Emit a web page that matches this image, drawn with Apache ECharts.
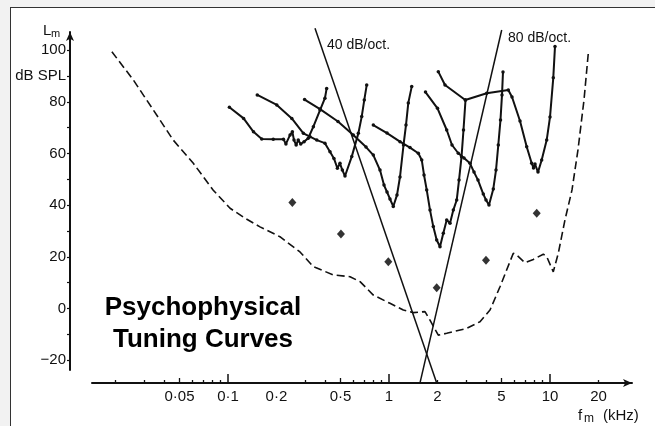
<!DOCTYPE html>
<html>
<head>
<meta charset="utf-8">
<script src="https://cdn.jsdelivr.net/npm/echarts@6/dist/echarts.min.js"></script>
<style>
	body { margin: 0; background: #f2f2f2; overflow: hidden; }
	#frame { position: absolute; left: 10px; top: 7px; width: 644px; height: 419px; background: #fff; border-left: 1px solid #333; border-top: 1px solid #333; }
	#chart { position: absolute; left: 0; top: 0; width: 655px; height: 426px; }
</style>
</head>
<body>
<div id="frame"></div>
<div id="chart"></div>
<script>
// masker frequency in kHz, masker level in dB SPL
var freqTickKhz = [0.05, 0.1, 0.2, 0.5, 1, 2, 5, 10, 20];
var freqTickText = ['0\u00b705', '0\u00b71', '0\u00b72', '0\u00b75', '1', '2', '5', '10', '20'];
var freqMinorKhz = [0.02, 0.03, 0.04, 0.06, 0.07, 0.08, 0.09, 0.3, 0.4, 0.6, 0.7, 0.8, 0.9, 2, 3, 4, 6, 7, 8, 9, 20];
var freqMidKhz = [0.05, 0.5, 5];
var freqDecadeKhz = [0.1, 1, 10];
var levelLabels = [-20, 0, 20, 40, 60, 80, 90, 100];
var levelTicks = [-20, -10, 0, 10, 20, 30, 40, 50, 60, 70, 80, 90, 100];

// probe tones (the dots)
var probeKhz = [0.251, 0.503, 0.990, 1.978, 4.004, 8.27];
var probeDb = [41.0, 28.8, 18.1, 8.0, 18.7, 36.9];

// tuning curves, one per probe
var ptc025Khz = [0.102, 0.125, 0.144, 0.162, 0.191, 0.221, 0.229, 0.243, 0.251, 0.257, 0.265, 0.273, 0.283, 0.297, 0.315, 0.339, 0.373, 0.400, 0.410];
var ptc025Db = [77.9, 73.6, 68.4, 65.6, 65.5, 65.5, 63.7, 67.2, 68.4, 65.2, 63.3, 65.2, 63.7, 64.6, 65.9, 70.4, 76.8, 81.4, 85.2];

var ptc05Khz = [0.152, 0.201, 0.249, 0.294, 0.323, 0.356, 0.400, 0.430, 0.455, 0.478, 0.496, 0.513, 0.533, 0.587, 0.645, 0.677, 0.702, 0.727];
var ptc05Db = [82.7, 78.8, 73.6, 67.8, 66.5, 65.2, 64.0, 60.7, 58.1, 54.3, 56.2, 53.6, 51.3, 58.8, 67.8, 74.3, 80.7, 86.5];

var ptc1Khz = [0.299, 0.373, 0.482, 0.600, 0.720, 0.799, 0.879, 0.931, 0.972, 1.014, 1.063, 1.121, 1.170, 1.231, 1.275, 1.318, 1.384];
var ptc1Db = [80.9, 77.2, 72.4, 67.2, 62.5, 59.4, 53.6, 47.8, 45.1, 42.4, 39.5, 43.9, 50.9, 63.3, 71.0, 79.6, 85.9];

var ptc2Khz = [0.799, 0.972, 1.170, 1.350, 1.521, 1.597, 1.650, 1.715, 1.798, 1.884, 1.978, 2.074, 2.174, 2.283, 2.393, 2.509, 2.634, 2.722, 2.821, 2.902, 2.987];
var ptc2Db = [71.0, 67.9, 64.6, 62.3, 60.1, 57.5, 51.7, 45.9, 38.1, 31.7, 26.5, 23.9, 29.1, 34.3, 33.0, 38.1, 42.0, 49.7, 58.7, 69.1, 80.7];

var ptc4Khz = [1.685, 2.001, 2.283, 2.462, 2.694, 2.923, 3.185, 3.373, 3.571, 3.852, 4.004, 4.179, 4.444, 4.620, 4.774, 4.926, 5.034, 5.106];
var ptc4Db = [83.8, 77.5, 69.1, 63.3, 60.1, 58.3, 56.2, 52.8, 49.7, 44.3, 42.0, 40.1, 46.3, 53.6, 63.3, 73.0, 82.7, 91.6];

var ptc8Khz = [2.024, 2.228, 2.978, 4.045, 5.508, 5.808, 6.512, 7.166, 7.697, 7.898, 8.069, 8.423, 8.880, 9.539, 10.0, 10.48, 10.74];
var ptc8Db = [91.7, 86.5, 80.7, 83.3, 84.6, 81.9, 72.6, 62.6, 56.2, 54.4, 55.9, 52.8, 57.5, 65.2, 74.1, 89.3, 101.4];

// threshold in quiet (dashed)
var quietKhz = [0.0190, 0.0258, 0.0344, 0.0457, 0.0609, 0.0810, 0.103, 0.128, 0.158, 0.210, 0.280, 0.339, 0.451, 0.573, 0.661, 0.799, 1.014, 1.227, 1.416, 1.673, 1.797, 2.024, 2.283, 3.038, 3.674, 4.240, 4.891, 5.916, 6.213, 6.995, 7.876, 9.087, 9.539, 10.48, 11.26, 12.39, 13.70, 14.92, 16.26, 17.29];
var quietDb = [99.4, 88.5, 76.8, 65.2, 56.2, 45.8, 38.8, 34.9, 31.6, 27.8, 21.9, 16.2, 13.0, 12.3, 10.4, 5.2, 2.0, -0.6, -1.6, -1.2, -4.5, -10.3, -9.6, -7.7, -5.1, -0.6, 8.4, 21.4, 20.7, 17.7, 19.0, 21.0, 20.1, 14.2, 21.4, 34.3, 45.9, 61.4, 80.7, 98.8];

// slope guide lines
var slope40Khz = [0.347, 1.978];
var slope40Db = [108.5, -28.8];
var slope80Khz = [1.558, 5.012];
var slope80Db = [-28.8, 107.8];

var INK = '#111';
var FONT = '"Liberation Sans", Arial, sans-serif';

function lg(list)
{
	return list.map(function (v) { return Math.log10(v); });
}

function pairs(khz, db)
{
	return khz.map(function (f, i) { return [Math.log10(f), db[i]]; });
}

function tuningSeries(khz, db)
{
	return {
		type: 'line',
		xAxisIndex: 0,
		yAxisIndex: 0,
		data: pairs(khz, db),
		symbol: 'circle',
		symbolSize: 3.5,
		showAllSymbol: true,
		lineStyle: {color: INK, width: 2},
		itemStyle: {color: INK},
		silent: true
	};
}

function guideSeries(khz, db, dash)
{
	return {
		type: 'line',
		xAxisIndex: 0,
		yAxisIndex: 0,
		data: pairs(khz, db),
		symbol: 'none',
		lineStyle: {color: INK, width: dash ? 1.6 : 1.5, type: dash ? [8, 4] : 'solid'},
		silent: true
	};
}

function tickLabel(v)
{
	for (var i = 0; i < freqTickKhz.length; i++) {
		if (Math.abs(Math.log10(freqTickKhz[i]) - v) < 1e-6) return freqTickText[i];
	}
	return '';
}

var chart = echarts.init(document.getElementById('chart'));

var hidden = {show: false};

option = {
	animation: false,
	grid: [
		// data area, 161 px per decade, 2.583 px per dB
		{left: 70, right: 18, top: 28, bottom: 43, outerBoundsMode: 'none'},
		// level axis
		{left: 70, width: 10, top: 32, bottom: 56, outerBoundsMode: 'none'},
		// frequency axis
		{left: 92, right: 23, top: 382, bottom: 43, outerBoundsMode: 'none'}
	],
	xAxis: [
		{gridIndex: 0, type: 'value', min: -1.9814, max: 1.5404, show: false},
		{gridIndex: 1, type: 'value', min: 0, max: 1, show: false},
		{
			gridIndex: 2, type: 'value', position: 'bottom', min: -1.8447, max: 1.5093,
			axisLine: {show: true, onZero: false, symbol: ['none', 'arrow'], symbolSize: [6, 9], lineStyle: {color: INK, width: 2}},
			axisTick: {show: true, inside: true, length: 3, customValues: lg(freqMinorKhz), lineStyle: {color: INK, width: 1.3}},
			axisLabel: {show: true, customValues: lg(freqTickKhz), formatter: tickLabel, margin: 6, color: INK, fontSize: 15, fontFamily: FONT},
			splitLine: hidden
		},
		{
			gridIndex: 2, type: 'value', position: 'bottom', min: -1.8447, max: 1.5093,
			axisLine: {show: false, onZero: false},
			axisTick: {show: true, inside: true, length: 5, customValues: lg(freqMidKhz), lineStyle: {color: INK, width: 1.3}},
			axisLabel: hidden,
			splitLine: hidden
		},
		{
			gridIndex: 2, type: 'value', position: 'bottom', min: -1.8447, max: 1.5093,
			axisLine: {show: false, onZero: false},
			axisTick: {show: true, inside: true, length: 9, customValues: lg(freqDecadeKhz), lineStyle: {color: INK, width: 1.5}},
			axisLabel: hidden,
			splitLine: hidden
		}
	],
	yAxis: [
		{gridIndex: 0, type: 'value', min: -28.84, max: 108.59, show: false},
		{
			gridIndex: 1, type: 'value', position: 'left', min: -23.81, max: 107.05,
			axisLine: {show: true, onZero: false, symbol: ['none', 'arrow'], symbolSize: [6, 9], lineStyle: {color: INK, width: 2}},
			axisTick: {show: true, length: 3, customValues: levelTicks, lineStyle: {color: INK, width: 1.2}},
			axisLabel: {
				show: true, customValues: levelLabels, margin: 4, color: INK, fontSize: 15, fontFamily: FONT,
				formatter: function (v) {
					if (v === 90) return 'dB SPL';
					if (v < 0) return '\u2212' + Math.abs(v);
					return String(v);
				}
			},
			splitLine: hidden
		},
		{gridIndex: 2, type: 'value', min: 0, max: 1, show: false}
	],
	graphic: [
		{type: 'text', x: 43, y: 31, style: {text: 'L', fill: INK, font: '15px ' + FONT, textVerticalAlign: 'middle'}},
		{type: 'text', x: 51, y: 34, style: {text: 'm', fill: INK, font: '11px ' + FONT, textVerticalAlign: 'middle'}},
		{type: 'text', x: 578, y: 416, style: {text: 'f', fill: INK, font: '15px ' + FONT, textVerticalAlign: 'middle'}},
		{type: 'text', x: 584, y: 419, style: {text: 'm', fill: INK, font: '12px ' + FONT, textVerticalAlign: 'middle'}},
		{type: 'text', x: 603, y: 416, style: {text: '(kHz)', fill: INK, font: '15px ' + FONT, textVerticalAlign: 'middle'}},
		{type: 'text', x: 327, y: 45, style: {text: '40 dB/oct.', fill: INK, font: '14px ' + FONT, textVerticalAlign: 'middle'}},
		{type: 'text', x: 508, y: 38.5, style: {text: '80 dB/oct.', fill: INK, font: '14px ' + FONT, textVerticalAlign: 'middle'}},
		{
			type: 'text', x: 203, y: 323.5,
			style: {text: 'Psychophysical\nTuning Curves', fill: '#000', font: 'bold 26px ' + FONT, textAlign: 'center', textVerticalAlign: 'middle', lineHeight: 32}
		}
	],
	series: [
		guideSeries(quietKhz, quietDb, true),
		guideSeries(slope40Khz, slope40Db, false),
		guideSeries(slope80Khz, slope80Db, false),
		tuningSeries(ptc025Khz, ptc025Db),
		tuningSeries(ptc05Khz, ptc05Db),
		tuningSeries(ptc1Khz, ptc1Db),
		tuningSeries(ptc2Khz, ptc2Db),
		tuningSeries(ptc4Khz, ptc4Db),
		tuningSeries(ptc8Khz, ptc8Db),
		{
			type: 'scatter',
			xAxisIndex: 0,
			yAxisIndex: 0,
			data: pairs(probeKhz, probeDb),
			symbol: 'diamond',
			symbolSize: [8, 9],
			itemStyle: {color: '#000'},
			silent: true
		}
	]
};

chart.setOption(option);
</script>
</body>
</html>
